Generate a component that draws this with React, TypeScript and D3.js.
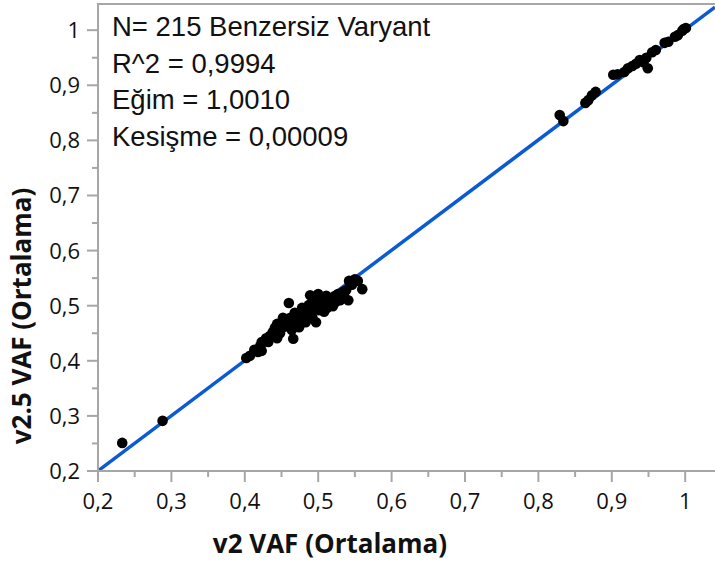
import React from "react";
import * as d3 from "d3";

// v2 VAF (mean) values
const v2Values: number[] = [
  0.233, 0.288,
  0.402, 0.418, 0.421, 0.423, 0.429, 0.434, 0.438, 0.444, 0.444, 0.449,
  0.453, 0.456, 0.460, 0.462, 0.464, 0.466, 0.468, 0.471, 0.474, 0.477,
  0.479, 0.482, 0.485, 0.487, 0.490, 0.492, 0.494, 0.497, 0.500, 0.502,
  0.505, 0.508, 0.511, 0.513, 0.516, 0.520, 0.523, 0.527, 0.530, 0.534,
  0.538, 0.541, 0.542, 0.546, 0.550, 0.554, 0.560, 0.407, 0.413, 0.432,
  0.441, 0.452, 0.459, 0.470, 0.478, 0.483, 0.493, 0.501, 0.512, 0.524,
  0.535, 0.448, 0.423, 0.475, 0.489,
  0.829, 0.834, 0.864, 0.868, 0.873, 0.878, 0.902, 0.908, 0.917, 0.922,
  0.928, 0.933, 0.938, 0.943, 0.947, 0.949, 0.955, 0.960, 0.972, 0.977,
  0.986, 0.990, 0.996, 0.998, 1.001,
];

// v2.5 VAF (mean) values
const v25Values: number[] = [
  0.251, 0.291,
  0.405, 0.416, 0.427, 0.434, 0.441, 0.445, 0.452, 0.441, 0.467, 0.458,
  0.470, 0.463, 0.505, 0.478, 0.456, 0.440, 0.487, 0.470, 0.461, 0.481,
  0.490, 0.478, 0.485, 0.501, 0.494, 0.479, 0.510, 0.470, 0.521, 0.499,
  0.510, 0.489, 0.518, 0.505, 0.514, 0.499, 0.518, 0.521, 0.510, 0.525,
  0.528, 0.510, 0.545, 0.538, 0.548, 0.545, 0.530, 0.409, 0.420, 0.434,
  0.460, 0.478, 0.467, 0.481, 0.496, 0.470, 0.503, 0.492, 0.496, 0.507,
  0.518, 0.450, 0.418, 0.474, 0.519,
  0.846, 0.835, 0.868, 0.873, 0.882, 0.888, 0.919, 0.920, 0.924, 0.931,
  0.935, 0.939, 0.946, 0.942, 0.950, 0.931, 0.960, 0.964, 0.977, 0.979,
  0.988, 0.991, 0.999, 1.002, 1.004,
];

const majorTicks: number[] = [0.2, 0.3, 0.4, 0.5, 0.6, 0.7, 0.8, 0.9, 1.0];
const minorTicks: number[] = [0.25, 0.35, 0.45, 0.55, 0.65, 0.75, 0.85, 0.95];
const tickLabels: string[] = ["0,2", "0,3", "0,4", "0,5", "0,6", "0,7", "0,8", "0,9", "1"];

const statLines: string[] = [
  "N= 215 Benzersiz Varyant",
  "R^2 = 0,9994",
  "Eğim = 1,0010",
  "Kesişme = 0,00009",
];
const slope = 1.001;
const intercept = 0.00009;

const xTitle = "v2 VAF (Ortalama)";
const yTitle = "v2.5 VAF (Ortalama)";

const W = 715;
const H = 564;
const left = 98;
const bottom = 471;
const top = 4;
const right = 715;

export default function App() {
  const x = d3.scaleLinear().domain([0.2, 1.0406]).range([left, right]);
  const y = d3.scaleLinear().domain([0.2, 1.0475]).range([bottom, top]);
  const axisColor = "#a6a6a6";
  const tickFont = "'Open Sans', 'Noto Sans', sans-serif";

  const lineGen = d3
    .line<number>()
    .x((d) => x(d))
    .y((d) => y(slope * d + intercept));
  const xs = [0.2, 1.0406];

  const pts = v2Values.map((v, i) => ({ x: v, y: v25Values[i] }));

  return (
    <div style={{ position: "absolute", left: 0, top: 0 }}>
      <svg width={W} height={H} style={{ display: "block", background: "#fff" }}>
        <defs>
          <clipPath id="plotClip">
            <rect x={left} y={top} width={right - left} height={bottom - top} />
          </clipPath>
        </defs>
        {/* stats text */}
        <g fontFamily="'Liberation Sans', Arial, sans-serif" fontSize={27.5} fill="#111">
          {statLines.map((s, i) => (
            <text key={i} x={112} y={36 + i * 36.7}>
              {s}
            </text>
          ))}
        </g>
        {/* regression line */}
        <g clipPath="url(#plotClip)">
          <path d={lineGen(xs) || ""} stroke="#0a5bd3" strokeWidth={3.5} fill="none" />
        </g>
        {/* points */}
        <g fill="#000">
          {pts.map((p, i) => (
            <circle key={i} cx={x(p.x)} cy={y(p.y)} r={5.3} />
          ))}
        </g>
        {/* frame */}
        <line x1={left} x2={right} y1={top} y2={top} stroke={axisColor} strokeWidth={2} />
        <line x1={left} x2={left} y1={top - 1} y2={bottom + 1} stroke={axisColor} strokeWidth={2} />
        <line x1={left - 1} x2={right} y1={bottom} y2={bottom} stroke={axisColor} strokeWidth={2} />
        {/* x ticks */}
        {majorTicks.map((t) => (
          <line key={"xm" + t} x1={x(t)} x2={x(t)} y1={bottom} y2={bottom + 11} stroke={axisColor} strokeWidth={2} />
        ))}
        {minorTicks.map((t) => (
          <line key={"xn" + t} x1={x(t)} x2={x(t)} y1={bottom} y2={bottom + 6} stroke={axisColor} strokeWidth={2} />
        ))}
        {/* y ticks */}
        {majorTicks.map((t) => (
          <line key={"ym" + t} x1={left - 11} x2={left} y1={y(t)} y2={y(t)} stroke={axisColor} strokeWidth={2} />
        ))}
        {minorTicks.map((t) => (
          <line key={"yn" + t} x1={left - 6} x2={left} y1={y(t)} y2={y(t)} stroke={axisColor} strokeWidth={2} />
        ))}
        {/* tick labels */}
        <g fontFamily={tickFont} fontSize={22} fill="#111">
          {majorTicks.map((t, i) => (
            <text key={"xl" + t} x={x(t)} y={bottom + 38} textAnchor="middle">
              {tickLabels[i]}
            </text>
          ))}
          {majorTicks.map((t, i) => (
            <text key={"yl" + t} x={80} y={y(t) + 8} textAnchor="end">
              {tickLabels[i]}
            </text>
          ))}
        </g>
        {/* axis titles */}
        <text
          x={330}
          y={553}
          textAnchor="middle"
          fontFamily={tickFont}
          fontWeight="bold"
          fontSize={26}
          fill="#111"
        >
          {xTitle}
        </text>
        <text
          transform={`translate(31, 316) rotate(-90)`}
          textAnchor="middle"
          fontFamily={tickFont}
          fontWeight="bold"
          fontSize={26}
          fill="#111"
        >
          {yTitle}
        </text>
      </svg>
    </div>
  );
}
